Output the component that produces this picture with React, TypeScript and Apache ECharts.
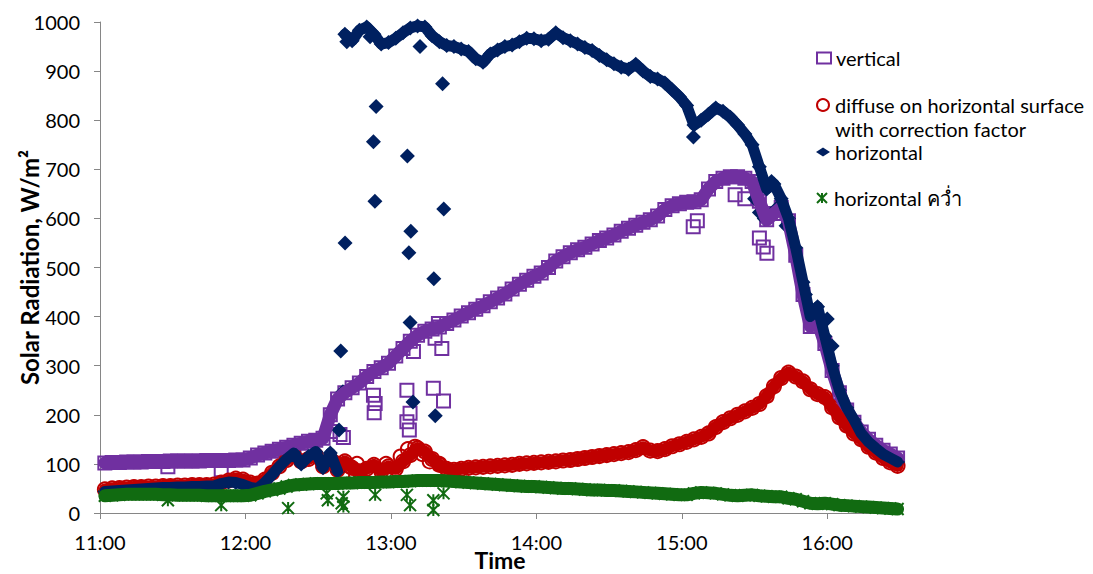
import React, { useEffect, useRef } from "react";
import * as echarts from "echarts";

// minutes after 11:00
const times = [
  2, 5, 8, 11, 14, 17, 20, 23, 26, 29, 32, 35, 38, 41, 44, 47, 50, 53, 56, 59,
  62, 65, 68, 71, 74, 77, 80, 83, 86, 89, 92, 95, 98, 101, 104, 107, 110, 113, 116, 119,
  122, 125, 128, 131, 134, 137, 140, 143, 146, 149, 152, 155, 158, 161, 164, 167, 170, 173, 176, 179,
  182, 185, 188, 191, 194, 197, 200, 203, 206, 209, 212, 215, 218, 221, 224, 227, 230, 233, 236, 239,
  242, 245, 248, 251, 254, 257, 260, 263, 266, 269, 272, 275, 278, 281, 284, 287, 290, 293, 296, 299,
  302, 305, 308, 311, 314, 317, 320, 323, 326, 329,
];

const verticalValues = [
  102, 103, 103, 104, 104, 104, 105, 105, 105, 106,
  106, 106, 106, 106, 107, 107, 107, 107, 108, 108,
  112, 118, 122, 126, 130, 134, 138, 142, 146, 148,
  152, 200, 232, 245, 255, 265, 278, 288, 296, 305,
  320, 335, 350, 362, 370, 375, 379, 386, 393, 401,
  408, 415, 422, 430, 438, 446, 456, 466, 474, 482,
  489, 500, 513, 522, 530, 536, 541, 548, 555, 560,
  566, 574, 580, 586, 592, 597, 605, 618, 626, 630,
  633, 634, 638, 660, 675, 682, 685, 685, 682, 675,
  635, 597, 610, 622, 595, 525, 445, 380, 390, 345,
  290, 245, 210, 185, 165, 150, 138, 128, 120, 112,
];

const diffuseValues = [
  48, 50, 51, 52, 53, 53, 54, 54, 55, 55,
  56, 56, 57, 57, 57, 58, 62, 66, 70, 68,
  62, 60, 68, 82, 95, 108, 118, 105, 110, 118,
  95, 110, 88, 105, 92, 85, 90, 98, 85, 95,
  90, 105, 118, 132, 125, 110, 98, 90, 88, 90,
  92, 93, 94, 95, 96, 97, 98, 100, 101, 102,
  103, 104, 105, 107, 108, 110, 112, 114, 116, 118,
  120, 122, 124, 128, 134, 127, 126, 130, 136, 140,
  145, 150, 155, 162, 175, 185, 193, 200, 207, 214,
  222, 238, 258, 275, 286, 278, 268, 252, 242, 236,
  215, 195, 178, 162, 150, 135, 123, 112, 103, 96,
];

const horizontalValues = [
  44, 45, 46, 47, 48, 49, 50, 51, 52, 52,
  53, 53, 54, 54, 55, 55, 60, 63, 62, 58,
  52, 50, 62, 78, 95, 110, 122, 100, 115, 125,
  92, 122, 85, 975, 962, 983, 990, 975, 955, 958,
  967, 978, 988, 992, 990, 972, 960, 952, 950, 945,
  940, 925, 918, 935, 943, 950, 953, 960, 967, 966,
  962, 965, 978, 968, 962, 955, 948, 942, 932, 923,
  915, 908, 904, 914, 900, 889, 884, 876, 862, 848,
  830, 790, 800, 812, 825, 818, 806, 790, 772, 750,
  705, 660, 670, 640, 600, 540, 470, 400, 420, 360,
  300, 250, 215, 190, 162, 145, 132, 120, 112, 104,
];

const invertedValues = [
  35, 36, 37, 38, 38, 38, 38, 38, 37, 37,
  36, 36, 36, 36, 35, 35, 35, 35, 35, 35,
  36, 40, 44, 47, 50, 54, 57, 58, 59, 60,
  60, 60, 60, 61, 61, 62, 62, 62, 63, 63,
  64, 64, 65, 66, 66, 66, 66, 65, 64, 63,
  62, 61, 60, 59, 58, 57, 56, 55, 54, 54,
  53, 52, 51, 50, 50, 49, 48, 47, 47, 46,
  46, 45, 44, 43, 42, 41, 40, 39, 38, 37,
  37, 40, 42, 41, 40, 38, 36, 35, 36, 37,
  35, 34, 33, 33, 30, 28, 24, 20, 19, 20,
  18, 16, 15, 14, 13, 12, 11, 10, 9, 8,
];

// scattered readings [minutes after 11:00, W/m²]
const verticalExtra = [
  [28, 94], [50, 88], [94.9, 166], [99, 160], [100.4, 154], [112.8, 240], [113.5, 223], [113.1, 204],
  [126.6, 250], [127.9, 203], [126.6, 186], [127.6, 169], [137.5, 254], [141.7, 228], [141, 335],
  [129.3, 329], [138.2, 356], [139.6, 386], [244.7, 583], [246.4, 595], [262, 648], [266, 640],
  [272, 560], [273.6, 542], [275.1, 529],
];
const diffuseExtra = [
  [97, 102], [100, 80], [103, 95], [106, 100], [112, 82], [118, 100], [124, 115], [127, 130],
  [130, 135], [133, 120], [136, 105], [140, 100],
];
const horizontalExtra = [
  [101.1, 550], [99.3, 330], [100.2, 247], [98.6, 169], [113.9, 828], [112.8, 756], [113.4, 635],
  [126.8, 727], [128.2, 574], [127.4, 530], [127.9, 388], [126.3, 340], [129.1, 226], [141.3, 874],
  [141.8, 619], [137.7, 477], [138.3, 198], [101.8, 960], [111.4, 970], [132, 950], [244.8, 766],
  [270, 640], [272, 612], [274, 600], [277, 675], [279, 620], [283, 585], [291, 445], [295, 410],
  [297, 375], [300, 395], [302, 340],
];
const invertedExtra = [
  [28, 26], [50, 16], [77.6, 10], [94, 26], [93.5, 40], [99.7, 20], [100.4, 33], [100.4, 13],
  [113.5, 37], [126.6, 37], [127.9, 16], [137.5, 26], [137.5, 6], [141.7, 40],
];

const timeTicks = [0, 60, 120, 180, 240, 300];

const NAMES = [
  "vertical",
  "diffuse on horizontal surface",
  "horizontal",
  "horizontal คว่ำ",
];
const COLORS = ["#7030A0", "#C00000", "#002060", "#116B11"];
const STAR = "path://M0,0L10,10M10,0L0,10M5,0L5,10";
const FONT = "Lato, 'Open Sans', sans-serif";

export default function App() {
  const ref = useRef<HTMLDivElement>(null);
  useEffect(() => {
    document.body.style.margin = "0";
    document.body.style.overflow = "hidden";
    const chart = echarts.init(ref.current!, null, { renderer: "svg" });

    const pairs = (vals: number[]) => times.map((t, i) => [t, vals[i]]);
    const segments = (vals: number[]) => {
      const segs: number[][][] = [];
      let cur: number[][] = [];
      times.forEach((t, i) => {
        if (i > 0 && Math.abs(vals[i] - vals[i - 1]) > 300) {
          segs.push(cur);
          cur = [];
        }
        cur.push([t, vals[i]]);
      });
      segs.push(cur);
      return segs;
    };

    const specs = [
      { vals: verticalValues, extra: verticalExtra, symbol: "rect", size: 13, hollow: true, band: 13 },
      { vals: diffuseValues, extra: diffuseExtra, symbol: "circle", size: 14, hollow: true, band: 12 },
      { vals: horizontalValues, extra: horizontalExtra, symbol: "diamond", size: 15, hollow: false, band: 11 },
      { vals: invertedValues, extra: invertedExtra, symbol: STAR, size: 12, hollow: true, band: 13 },
    ];

    const series: any[] = [];
    specs.forEach((s, k) => {
      segments(s.vals).forEach((seg, j) => {
        series.push({
          type: "line",
          name: `band${k}_${j}`,
          data: seg,
          symbol: "none",
          silent: true,
          lineStyle: { color: COLORS[k], width: s.band, cap: "round", join: "round", opacity: 1 },
        });
      });
      series.push({
        type: "scatter",
        name: NAMES[k],
        data: [...pairs(s.vals), ...s.extra],
        symbol: s.symbol,
        symbolSize: s.size,
        itemStyle: s.hollow
          ? { color: "rgba(0,0,0,0)", borderColor: COLORS[k], borderWidth: 2, opacity: 1 }
          : { color: COLORS[k], opacity: 1 },
      });
    });

    const legendTops = [47, 94, 141, 187];
    const legendIcons = ["rect", "circle", "diamond", STAR];
    const legendSizes = [[14, 11], [14, 12], [14, 9], [14, 10]];
    const legends = NAMES.map((n, k) => ({
      data: [
        {
          name: n,
          icon: legendIcons[k],
          itemStyle:
            k === 2
              ? { color: COLORS[k], borderWidth: 0, opacity: 1 }
              : { color: "rgba(0,0,0,0)", borderColor: COLORS[k], borderWidth: 2, opacity: 1 },
        },
      ],
      left: 816,
      top: legendTops[k],
      padding: 0,
      itemWidth: legendSizes[k][0],
      itemHeight: legendSizes[k][1],
      selectedMode: false,
      textStyle: { fontFamily: FONT, fontSize: 20, color: "#000", lineHeight: 22 },
    }));

    chart.setOption({
      animation: false,
      backgroundColor: "#fff",
      textStyle: { fontFamily: FONT },
      grid: {
        left: 100,
        right: 193,
        top: 22,
        bottom: 61,
        containLabel: false,
        outerBoundsMode: "none",
      },
      legend: legends,
      graphic: [
        {
          type: "text",
          left: 835,
          top: 119,
          style: { text: "with correction factor", font: `20px ${FONT}`, fill: "#000" },
        },
      ],
      xAxis: {
        type: "value",
        min: 0,
        max: 330,
        interval: 60,
        name: "Time",
        nameLocation: "middle",
        nameGap: 35,
        nameMoveOverlap: false,
        nameTextStyle: {
          fontFamily: FONT,
          fontSize: 23,
          lineHeight: 24,
          fontWeight: "bold",
          color: "#000",
        },
        axisLine: { show: true, onZero: false, lineStyle: { color: "#868686", width: 1 } },
        axisTick: { show: true, length: 6, customValues: timeTicks, lineStyle: { color: "#868686" } },
        axisLabel: {
          customValues: timeTicks,
          margin: 19,
          fontSize: 20,
          fontFamily: FONT,
          color: "#000",
          formatter: (v: number) => `${11 + Math.round(v / 60)}:00`,
        },
        splitLine: { show: false },
      },
      yAxis: {
        type: "value",
        min: 0,
        max: 1000,
        interval: 100,
        name: "Solar Radiation, W/m²",
        nameLocation: "middle",
        nameGap: 59,
        nameMoveOverlap: false,
        nameTextStyle: { fontFamily: FONT, fontSize: 24, fontWeight: "bold", color: "#000" },
        axisLine: { show: true, lineStyle: { color: "#868686", width: 1 } },
        axisTick: { show: true, length: 6, lineStyle: { color: "#868686" } },
        axisLabel: {
          margin: 20,
          fontSize: 20,
          fontFamily: FONT,
          color: "#000",
          formatter: (v: number) => String(v),
        },
        splitLine: { show: false },
      },
      series,
    });
    return () => chart.dispose();
  }, []);

  return (
    <div
      ref={ref}
      style={{ position: "fixed", left: 0, top: 0, width: 1093, height: 574, background: "#fff" }}
    />
  );
}
